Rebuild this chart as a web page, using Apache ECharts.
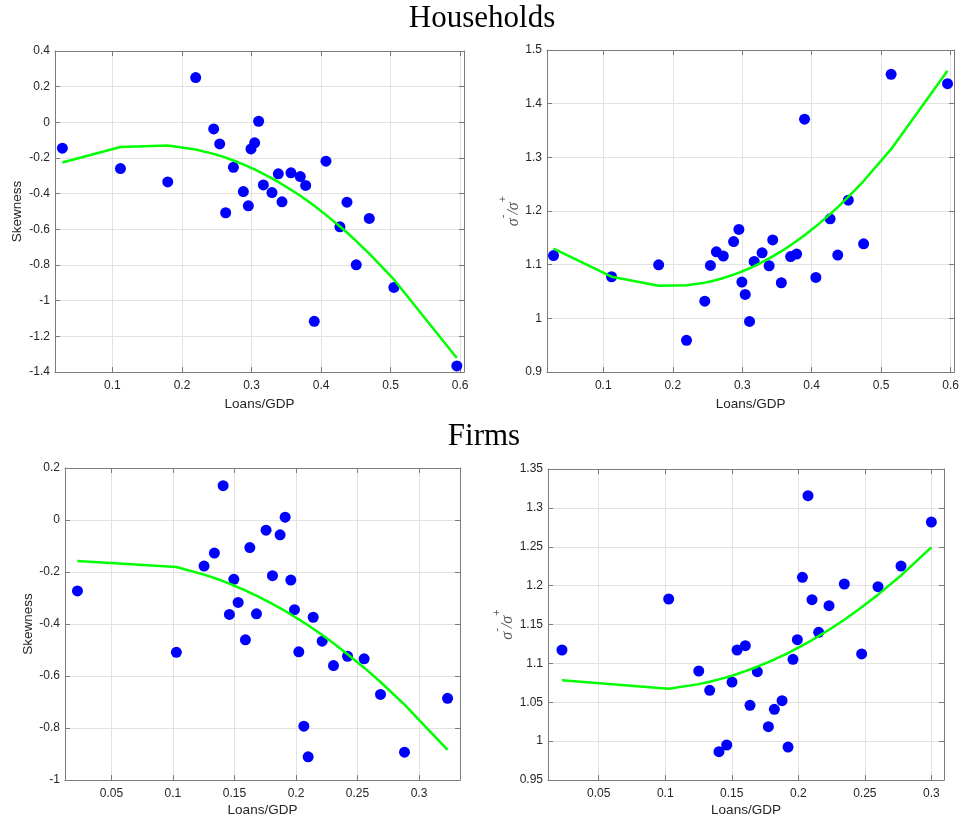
<!DOCTYPE html>
<html>
<head>
<meta charset="utf-8">
<script src="https://cdn.jsdelivr.net/npm/echarts@6/dist/echarts.min.js"></script>
<style>
html,body{margin:0;padding:0;background:#fff;}
#chart{width:962px;height:820px;}
</style>
</head>
<body>
<div id="chart"></div>
<script>
// ---------- Households: skewness ----------
const hhSkewX = [0.028,0.1115,0.1795,0.2197,0.2456,0.2542,0.2628,0.2739,0.2882,0.2954,0.2992,0.3045,0.3102,0.3170,0.3294,0.3385,0.3438,0.3567,0.3701,0.3778,0.3902,0.4070,0.4271,0.4372,0.4506,0.4693,0.5047,0.5952];
const hhSkew = [-0.145,-0.259,-0.334,0.251,-0.037,-0.121,-0.507,-0.252,-0.388,-0.468,-0.149,-0.115,0.006,-0.351,-0.394,-0.289,-0.446,-0.283,-0.304,-0.354,-1.116,-0.218,-0.586,-0.448,-0.799,-0.539,-0.926,-1.366];
const hhSkewFit = [-0.225,-0.138,-0.130,-0.152,-0.177,-0.187,-0.198,-0.214,-0.236,-0.248,-0.255,-0.264,-0.275,-0.289,-0.314,-0.334,-0.347,-0.378,-0.412,-0.433,-0.468,-0.519,-0.584,-0.618,-0.666,-0.736,-0.881,-1.322];

// ---------- Households: sigma ratio ----------
const hhRatioX = [0.0284,0.1119,0.1797,0.2198,0.2461,0.2542,0.2628,0.2728,0.2876,0.2952,0.2995,0.3043,0.3105,0.3172,0.3286,0.3387,0.3439,0.3563,0.3697,0.3783,0.3897,0.4060,0.4265,0.4375,0.4527,0.4747,0.5143,0.5955];
const hhRatio = [1.117,1.0775,1.0998,0.959,1.032,1.0986,1.124,1.116,1.143,1.1656,1.0675,1.0446,0.9943,1.106,1.122,1.098,1.146,1.0663,1.115,1.1197,1.371,1.0762,1.1854,1.1178,1.2202,1.1389,1.4547,1.4373];
const hhRatioFit = [1.1298,1.0775,1.0607,1.0616,1.0665,1.0688,1.0715,1.0752,1.0814,1.0851,1.0873,1.0899,1.0933,1.0974,1.1046,1.1116,1.1155,1.1251,1.1363,1.1441,1.1549,1.1714,1.1941,1.2072,1.2262,1.2558,1.3152,1.4615];

// ---------- Firms: skewness ----------
const firmSkewX = [0.0224,0.1028,0.1253,0.1337,0.1408,0.1459,0.1495,0.1530,0.1589,0.1625,0.1679,0.1757,0.1809,0.1871,0.1912,0.1958,0.1988,0.2023,0.2064,0.2099,0.2140,0.2213,0.2305,0.2419,0.2554,0.2687,0.2882,0.3232];
const firmSkew = [-0.273,-0.509,-0.177,-0.127,0.132,-0.363,-0.228,-0.317,-0.461,-0.106,-0.361,-0.039,-0.214,-0.057,0.011,-0.231,-0.345,-0.507,-0.793,-0.911,-0.374,-0.466,-0.560,-0.524,-0.534,-0.671,-0.893,-0.686];
const firmSkewFit = [-0.158,-0.181,-0.210,-0.223,-0.235,-0.245,-0.252,-0.259,-0.271,-0.279,-0.291,-0.310,-0.323,-0.339,-0.350,-0.363,-0.372,-0.382,-0.395,-0.405,-0.418,-0.442,-0.474,-0.516,-0.568,-0.623,-0.710,-0.884];

// ---------- Firms: sigma ratio ----------
const firmRatioX = [0.0224,0.1026,0.1252,0.1334,0.1404,0.1462,0.1502,0.1540,0.1602,0.1637,0.1692,0.1775,0.1820,0.1878,0.1923,0.1960,0.1993,0.2031,0.2073,0.2103,0.2153,0.2231,0.2346,0.2476,0.2599,0.2772,0.3000];
const firmRatio = [1.1172,1.1828,1.0902,1.0653,0.9864,0.995,1.076,1.1172,1.1228,1.046,1.0893,1.0186,1.0409,1.052,0.9924,1.1052,1.1305,1.2107,1.3157,1.1819,1.1399,1.1742,1.2021,1.1121,1.1987,1.2252,1.2818];
const firmRatioFit = [1.0782,1.0675,1.0733,1.0764,1.0794,1.0822,1.0842,1.0863,1.0900,1.0921,1.0957,1.1016,1.1050,1.1097,1.1133,1.1166,1.1196,1.1231,1.1270,1.1300,1.1351,1.1432,1.1562,1.1721,1.1884,1.2131,1.2492];

// ---------- tick labels ----------
const xTicksHH = [0.1,0.2,0.3,0.4,0.5,0.6];
const yTicksHHSkew = [-1.4,-1.2,-1,-0.8,-0.6,-0.4,-0.2,0,0.2,0.4];
const yTicksHHRatio = [0.9,1,1.1,1.2,1.3,1.4,1.5];
const xTicksFirm = [0.05,0.1,0.15,0.2,0.25,0.3];
const yTicksFirmSkew = [-1,-0.8,-0.6,-0.4,-0.2,0,0.2];
const yTicksFirmRatio = [0.95,1,1.05,1.1,1.15,1.2,1.25,1.3,1.35];

const titles = ['Households', 'Firms'];
const xName = 'Loans/GDP';
const skewName = 'Skewness';

const AX = '#7a7a7a', TXT = '#262626', GRID = '#e2e2e2';
const FONT = "'Liberation Sans', Arial, sans-serif";

const sigmaRich = {
  s: {fontFamily: "'Liberation Serif', serif", fontStyle: 'italic', fontSize: 16, color: '#555', lineHeight: 24, verticalAlign: 'bottom'},
  sup: {fontFamily: "'Liberation Sans', sans-serif", fontSize: 11, color: '#555', lineHeight: 24, verticalAlign: 'top'}
};
const sigmaName = '{s|σ}{sup|-}{s|/σ}{sup|+}';

const grids = [
  {left: 55, top: 51, width: 409, height: 321},
  {left: 547, top: 50, width: 410, height: 322},
  {left: 65, top: 468, width: 395, height: 312},
  {left: 548, top: 469, width: 396, height: 311}
];

const panels = [
  {xmin: 0.0174, xmax: 0.6055, xt: xTicksHH, ymin: -1.4, ymax: 0.4, yt: yTicksHHSkew, yName: skewName, nameGapX: 25, nameGapY: 31},
  {xmin: 0.019, xmax: 0.605, xt: xTicksHH, ymin: 0.9, ymax: 1.5, yt: yTicksHHRatio, yName: sigmaName, rich: true, nameGapX: 25, nameGapY: 22},
  {xmin: 0.0123, xmax: 0.3333, xt: xTicksFirm, ymin: -1, ymax: 0.2, yt: yTicksFirmSkew, yName: skewName, nameGapX: 23, nameGapY: 30},
  {xmin: 0.0119, xmax: 0.3095, xt: xTicksFirm, ymin: 0.95, ymax: 1.35, yt: yTicksFirmRatio, yName: sigmaName, rich: true, nameGapX: 23, nameGapY: 25}
];

const fmt = v => String(+Number(v).toFixed(4));

const xAxes = [], yAxes = [];
panels.forEach((p, g) => {
  xAxes.push({
    type: 'value', gridIndex: g, min: p.xmin, max: p.xmax, position: 'bottom',
    axisLine: {show: true, onZero: false, lineStyle: {color: AX, width: 1}},
    axisTick: {show: true, inside: true, length: 5, customValues: p.xt, lineStyle: {color: AX}},
    axisLabel: {customValues: p.xt, margin: 8, color: TXT, fontSize: 12, fontFamily: FONT, formatter: fmt},
    splitLine: {show: true, lineStyle: {color: GRID, width: 1}},
    name: xName, nameLocation: 'middle', nameGap: p.nameGapX,
    nameTextStyle: {color: TXT, fontSize: 13.5, fontFamily: FONT}
  });
  xAxes.push({
    type: 'value', gridIndex: g, min: p.xmin, max: p.xmax, position: 'top',
    axisLine: {show: true, onZero: false, lineStyle: {color: AX, width: 1}},
    axisTick: {show: true, inside: true, length: 5, customValues: p.xt, lineStyle: {color: AX}},
    axisLabel: {show: false, customValues: p.xt},
    splitLine: {show: false}
  });
  const yAx = {
    type: 'value', gridIndex: g, min: p.ymin, max: p.ymax, position: 'left',
    axisLine: {show: true, onZero: false, lineStyle: {color: AX, width: 1}},
    axisTick: {show: true, inside: true, length: 5, customValues: p.yt, lineStyle: {color: AX}},
    axisLabel: {customValues: p.yt, margin: 5, color: TXT, fontSize: 12, fontFamily: FONT, formatter: fmt},
    splitLine: {show: true, lineStyle: {color: GRID, width: 1}},
    name: p.yName, nameLocation: 'middle', nameGap: p.nameGapY, nameRotate: 90,
    nameTextStyle: {color: TXT, fontSize: 13.5, fontFamily: FONT}
  };
  if (p.rich) yAx.nameTextStyle.rich = sigmaRich;
  yAxes.push(yAx);
  yAxes.push({
    type: 'value', gridIndex: g, min: p.ymin, max: p.ymax, position: 'right',
    axisLine: {show: true, onZero: false, lineStyle: {color: AX, width: 1}},
    axisTick: {show: true, inside: true, length: 5, customValues: p.yt, lineStyle: {color: AX}},
    axisLabel: {show: false, customValues: p.yt},
    splitLine: {show: false}
  });
});

const dataSets = [
  [hhSkewX, hhSkew, hhSkewFit],
  [hhRatioX, hhRatio, hhRatioFit],
  [firmSkewX, firmSkew, firmSkewFit],
  [firmRatioX, firmRatio, firmRatioFit]
];

const series = [];
dataSets.forEach((d, g) => {
  const [xs, ys, fit] = d;
  series.push({
    type: 'scatter', xAxisIndex: 2 * g, yAxisIndex: 2 * g,
    data: xs.map((x, i) => [x, ys[i]]),
    symbolSize: 11, itemStyle: {color: '#0000ff', opacity: 1}, z: 2
  });
  series.push({
    type: 'line', xAxisIndex: 2 * g, yAxisIndex: 2 * g,
    data: xs.map((x, i) => [x, fit[i]]),
    showSymbol: false, symbol: 'none',
    lineStyle: {color: '#00ff00', width: 2.5}, z: 3
  });
});

const chart = echarts.init(document.getElementById('chart'), null, {renderer: 'canvas'});
chart.setOption({
  animation: false,
  backgroundColor: '#ffffff',
  grid: grids,
  xAxis: xAxes,
  yAxis: yAxes,
  series: series,
  graphic: [
    {type: 'text', x: 482, y: 19, style: {text: titles[0], fill: '#000', font: "31px 'Liberation Serif', 'Times New Roman', serif", textAlign: 'center', textVerticalAlign: 'middle'}},
    {type: 'text', x: 484, y: 437, style: {text: titles[1], fill: '#000', font: "31px 'Liberation Serif', 'Times New Roman', serif", textAlign: 'center', textVerticalAlign: 'middle'}}
  ]
});
</script>
</body>
</html>
